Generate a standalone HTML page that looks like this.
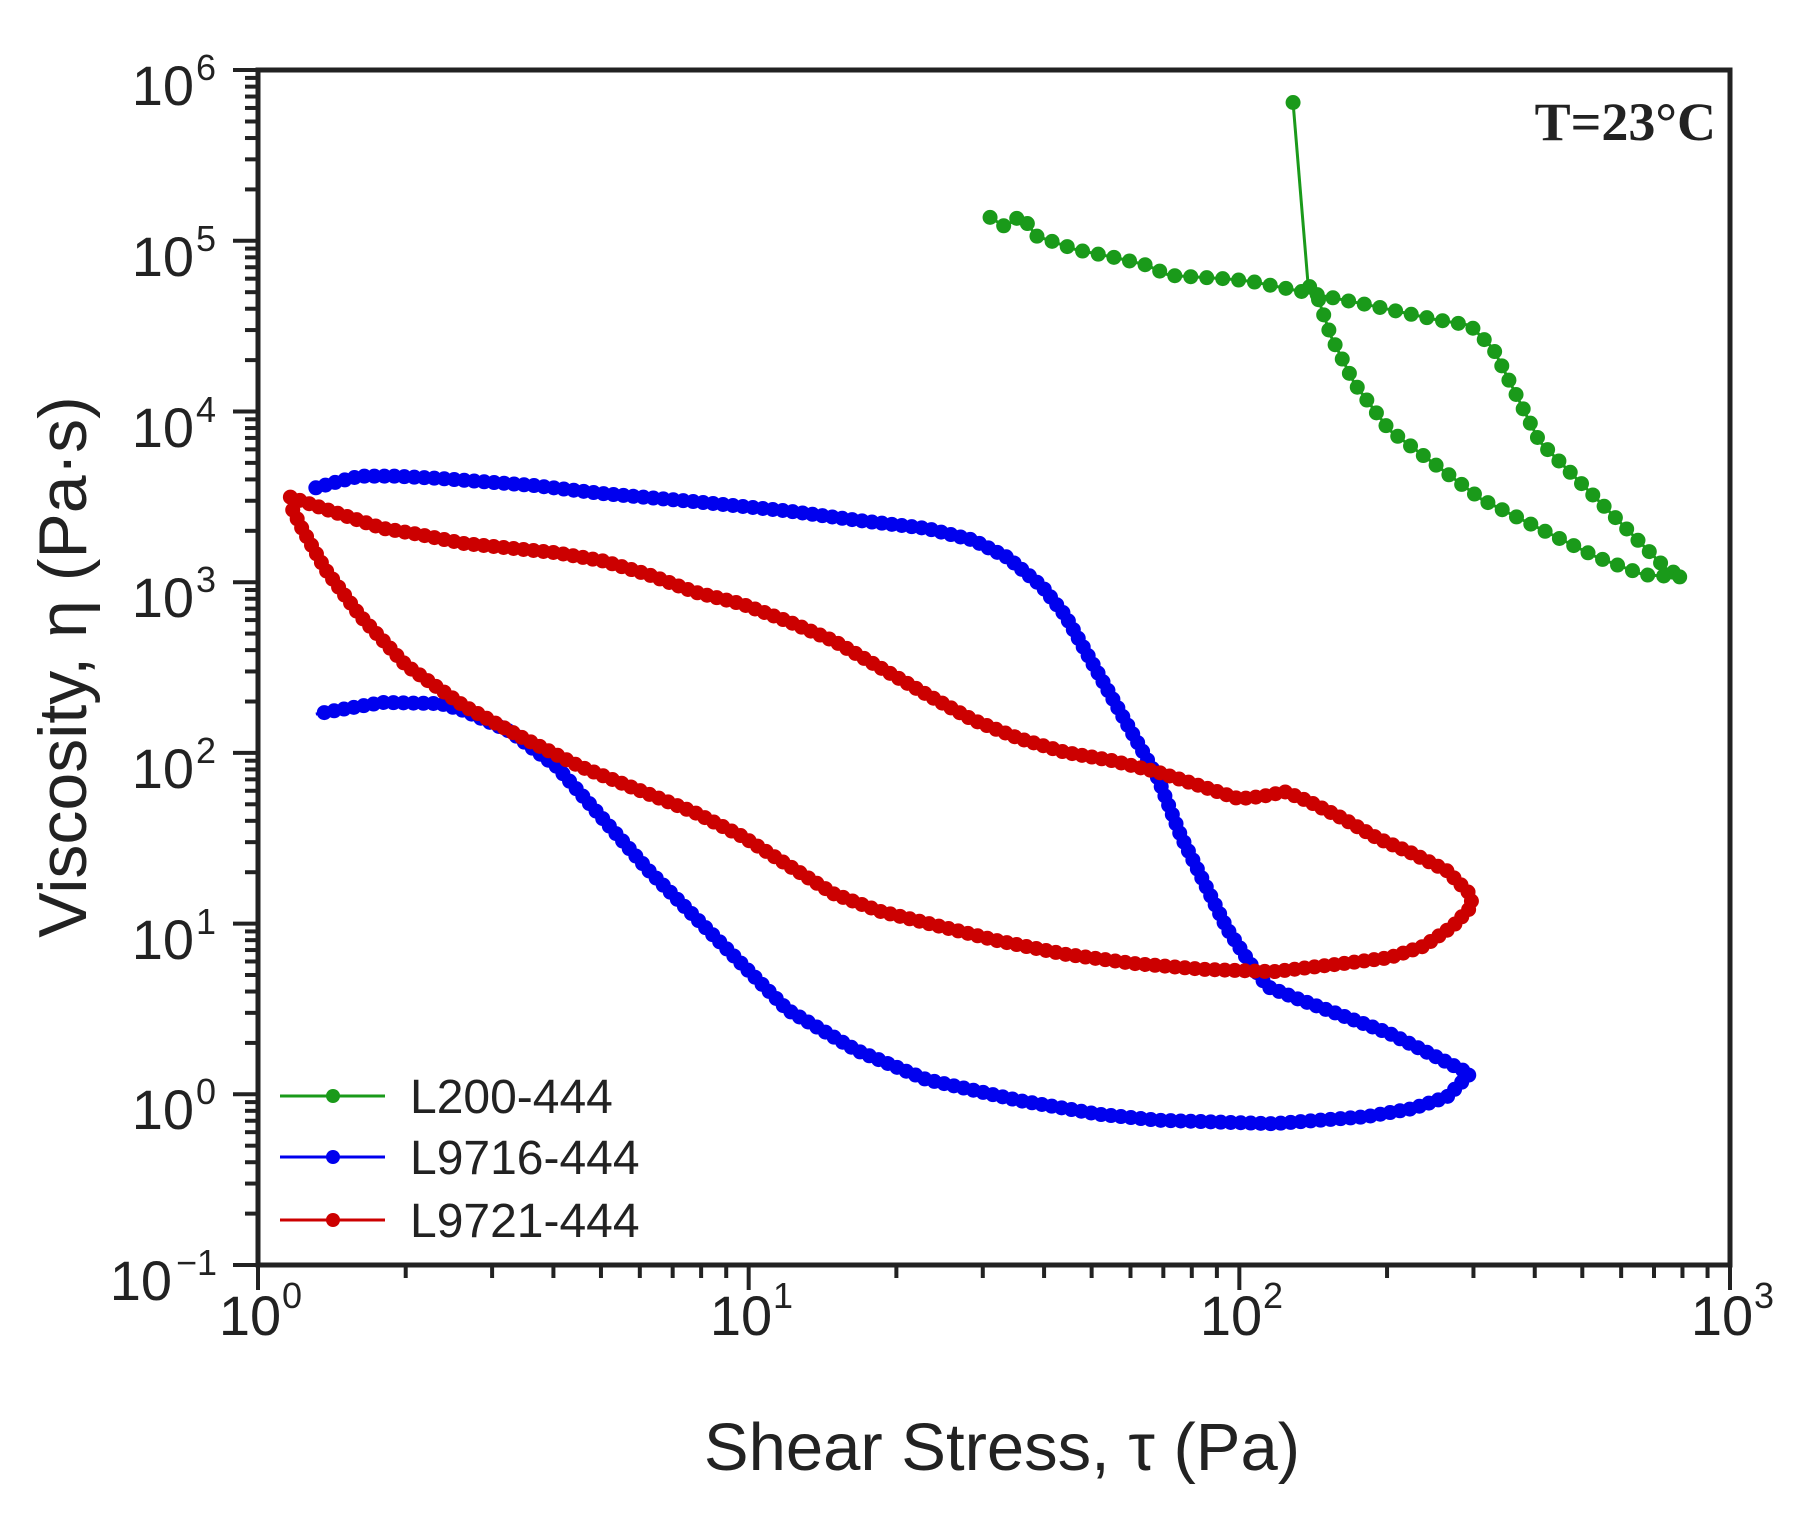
<!DOCTYPE html>
<html><head><meta charset="utf-8"><style>
html,body{margin:0;padding:0;background:#fff;}
svg{display:block;}
text{font-family:"Liberation Sans",sans-serif;fill:#222;}
</style></head><body>
<svg id="s" width="1816" height="1513" viewBox="0 0 1816 1513" xmlns="http://www.w3.org/2000/svg">
<rect x="258" y="70" width="1472" height="1195" fill="none" stroke="#222" stroke-width="5"/>
<g id="ticks" stroke="#222" stroke-width="4"></g>
<g id="data"></g>
<g font-size="56" text-anchor="end">
<text x="194" y="105">10</text><text x="194" y="276">10</text><text x="194" y="447">10</text><text x="194" y="617">10</text><text x="194" y="788">10</text><text x="194" y="959">10</text><text x="194" y="1129">10</text><text x="172" y="1300">10</text>
</g>
<g font-size="36">
<text x="196" y="80">6</text><text x="196" y="251">5</text><text x="196" y="422">4</text><text x="196" y="592">3</text><text x="196" y="763">2</text><text x="196" y="934">1</text><text x="196" y="1104">0</text><text x="176" y="1275">−1</text>
</g>
<g font-size="56" text-anchor="middle">
<text x="250" y="1335">10</text><text x="741" y="1335">10</text><text x="1231" y="1335">10</text><text x="1722" y="1335">10</text>
</g>
<g font-size="36">
<text x="282" y="1308">0</text><text x="773" y="1308">1</text><text x="1263" y="1308">2</text><text x="1754" y="1308">3</text>
</g>
<text x="1002" y="1470" font-size="67" text-anchor="middle">Shear Stress, τ (Pa)</text>
<text transform="translate(86,667) rotate(-90)" font-size="68" text-anchor="middle">Viscosity, η (Pa·s)</text>
<text x="1716" y="140" font-size="54" font-weight="bold" text-anchor="end" style="font-family:'Liberation Serif',serif">T=23°C</text>
<g font-size="48">
<line x1="280" y1="1096" x2="385" y2="1096" stroke="#1a9a1a" stroke-width="3"/><circle cx="333" cy="1096" r="7" fill="#1a9a1a"/><text x="410" y="1113">L200-444</text>
<line x1="280" y1="1157" x2="385" y2="1157" stroke="#0000ee" stroke-width="3"/><circle cx="333" cy="1157" r="7" fill="#0000ee"/><text x="410" y="1174">L9716-444</text>
<line x1="280" y1="1220" x2="385" y2="1220" stroke="#cc0000" stroke-width="3"/><circle cx="333" cy="1220" r="7" fill="#cc0000"/><text x="410" y="1237">L9721-444</text>
</g>
</svg>
<script>
var NS="http://www.w3.org/2000/svg";
function el(t,a,p){var e=document.createElementNS(NS,t);for(var k in a)e.setAttribute(k,a[k]);p.appendChild(e);return e;}
var tk=document.getElementById('ticks');
for(var d=0;d<3;d++)for(var m=1;m<10;m++){var x=258+(d+Math.log10(m))*490.67;el('line',{x1:x,y1:1265,x2:x,y2:m==1?1290:1278},tk);}
el('line',{x1:1730,y1:1265,x2:1730,y2:1290},tk);
for(var d=0;d<7;d++)for(var m=1;m<10;m++){var y=1265-(d+Math.log10(m))*170.7;el('line',{x1:258,y1:y,x2:m==1?233:245,y2:y},tk);}
el('line',{x1:258,y1:70,x2:233,y2:70},tk);
function T(p){return [258+(p[0]-222)*1.1565,70+(p[1]-60)*1.1605];}
var g=document.getElementById('data');
function series(pts,col,sp,r){
 var P=pts.map(T);var d='M'+P.map(function(q){return q.join(',')}).join('L');
 el('path',{d:d,fill:'none',stroke:col,'stroke-width':3},g);
 var acc=0;el('circle',{cx:P[0][0],cy:P[0][1],r:r,fill:col},g);
 for(var i=1;i<P.length;i++){var dx=P[i][0]-P[i-1][0],dy=P[i][1]-P[i-1][1],L=Math.hypot(dx,dy),t=sp-acc;
  while(t<=L){el('circle',{cx:P[i-1][0]+dx*t/L,cy:P[i-1][1]+dy*t/L,r:r,fill:col},g);t+=sp;}acc=L-(t-sp);}
}
var G="#1a9a1a",B="#0000ee",R="#cc0000";
series([[855,187],[868,195],[882,185],[895,203],[930,215],[965,222],[990,228],[1010,237],[1060,240],[1080,242],[1120,250],[1180,262],[1240,275],[1270,280],[1290,300],[1310,340],[1330,380],[1380,430],[1440,490],[1455,497],[1420,495],[1380,480],[1340,460],[1280,430],[1240,400],[1200,370],[1170,330],[1150,290],[1138,255],[1130,245]],G,16,7.5);
var p1=T([1117,88]),p2=T([1130,245]);
el('line',{x1:p1[0],y1:p1[1],x2:p2[0],y2:p2[1],stroke:G,'stroke-width':3},g);el('circle',{cx:p1[0],cy:p1[1],r:7.5,fill:G},g);
series([[272,420],[290,415],[310,410],[340,410],[380,412],[420,415],[460,418],[520,425],[600,432],[680,440],[740,448],[800,455],[840,465],[870,480],[900,505],[920,530],[940,565],[960,600],[980,635],[1000,670],[1020,720],[1040,760],[1060,800],[1080,830],[1095,850],[1120,860],[1160,875],[1200,890],[1240,910],[1270,925],[1250,945],[1220,955],[1180,962],[1100,968],[1000,965],[950,960],[880,948],[800,930],[740,905],[680,870],[620,810],[560,750],[520,705],[480,660],[440,630],[400,612],[380,606],[330,605],[300,610],[272,615]],B,10,7.5);
series([[250,428],[270,435],[300,445],[330,455],[360,460],[400,468],[440,472],[480,476],[520,483],[560,495],[600,510],[640,520],[680,535],[720,552],[760,575],[800,598],[840,620],[880,636],[920,648],[960,655],[1000,665],[1040,678],[1070,688],[1090,686],[1110,682],[1130,690],[1160,705],[1190,722],[1220,735],[1250,750],[1270,770],[1272,780],[1255,798],[1230,815],[1200,825],[1160,830],[1100,837],[1040,835],[980,830],[920,822],[860,810],[800,795],[760,785],[720,770],[680,745],[640,720],[600,700],[550,680],[500,660],[450,635],[400,608],[350,573],[310,530],[280,490],[260,455],[250,435]],R,10,7.5);
</script>
</body></html>
